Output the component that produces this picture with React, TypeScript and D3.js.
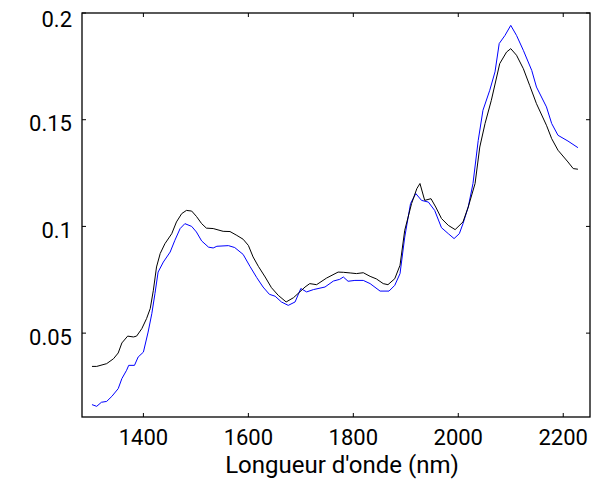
import * as d3 from 'd3';
import { useRef, useEffect } from 'react';

// black spectrum
const blackWavelengths = [1302, 1311, 1330, 1343, 1352, 1359, 1370, 1381, 1387, 1397, 1406, 1413, 1419, 1425, 1432, 1441, 1454, 1463, 1473, 1482, 1492, 1501, 1511, 1520, 1533, 1552, 1565, 1578, 1590, 1600, 1609, 1619, 1632, 1644, 1657, 1672, 1686, 1698, 1708, 1717, 1730, 1749, 1771, 1781, 1794, 1806, 1819, 1832, 1844, 1857, 1866, 1879, 1889, 1898, 1911, 1921, 1927, 1936, 1948, 1957, 1968, 1981, 1994, 2009, 2019, 2032, 2041, 2051, 2063, 2079, 2092, 2100, 2111, 2124, 2136, 2149, 2168, 2178, 2190, 2209, 2219, 2228];
const blackValues = [0.0344, 0.0344, 0.0357, 0.0380, 0.0407, 0.0454, 0.0486, 0.0482, 0.0486, 0.0521, 0.0568, 0.0615, 0.0701, 0.0810, 0.0873, 0.0919, 0.0966, 0.1021, 0.1060, 0.1075, 0.1072, 0.1047, 0.1013, 0.0992, 0.0990, 0.0977, 0.0976, 0.0958, 0.0940, 0.0911, 0.0857, 0.0813, 0.0763, 0.0713, 0.0677, 0.0646, 0.0666, 0.0693, 0.0716, 0.0732, 0.0727, 0.0758, 0.0786, 0.0785, 0.0782, 0.0779, 0.0783, 0.0766, 0.0754, 0.0732, 0.0727, 0.0755, 0.0818, 0.0982, 0.1107, 0.1177, 0.1201, 0.1122, 0.1130, 0.1091, 0.1037, 0.1005, 0.0985, 0.1021, 0.1091, 0.1201, 0.1372, 0.1482, 0.1591, 0.1763, 0.1817, 0.1833, 0.1802, 0.1739, 0.1661, 0.1575, 0.1474, 0.1411, 0.1357, 0.1302, 0.1271, 0.1268];

// blue spectrum
const blueWavelengths = [1302, 1311, 1320, 1330, 1340, 1352, 1359, 1368, 1372, 1383, 1390, 1400, 1409, 1416, 1422, 1428, 1438, 1451, 1460, 1470, 1479, 1492, 1501, 1511, 1524, 1533, 1540, 1562, 1574, 1590, 1603, 1616, 1628, 1640, 1651, 1663, 1676, 1689, 1700, 1711, 1724, 1746, 1762, 1774, 1781, 1790, 1803, 1819, 1832, 1851, 1868, 1879, 1889, 1898, 1909, 1919, 1930, 1943, 1955, 1968, 1981, 1992, 2002, 2009, 2019, 2028, 2038, 2047, 2060, 2070, 2078, 2089, 2100, 2111, 2124, 2140, 2149, 2168, 2178, 2190, 2209, 2228];
const blueValues = [0.0165, 0.0157, 0.0176, 0.0180, 0.0204, 0.0240, 0.0287, 0.0326, 0.0349, 0.0349, 0.0388, 0.0411, 0.0505, 0.0591, 0.0685, 0.0786, 0.0833, 0.0880, 0.0935, 0.0990, 0.1013, 0.1000, 0.0974, 0.0932, 0.0903, 0.0899, 0.0907, 0.0910, 0.0901, 0.0869, 0.0813, 0.0760, 0.0716, 0.0682, 0.0673, 0.0646, 0.0630, 0.0646, 0.0709, 0.0693, 0.0704, 0.0716, 0.0744, 0.0752, 0.0763, 0.0743, 0.0747, 0.0747, 0.0732, 0.0697, 0.0697, 0.0724, 0.0779, 0.0950, 0.1107, 0.1154, 0.1122, 0.1114, 0.1075, 0.0994, 0.0966, 0.0943, 0.0966, 0.1013, 0.1091, 0.1201, 0.1403, 0.1544, 0.1638, 0.1724, 0.1857, 0.1895, 0.1942, 0.1895, 0.1825, 0.1731, 0.1653, 0.1560, 0.1482, 0.1427, 0.1400, 0.1369];

const xTicks = [1400, 1600, 1800, 2000, 2200];
const yTicks = [0.05, 0.1, 0.15, 0.2];
const yTickLabels = ['0.05', '0.1', '0.15', '0.2'];

export default function App() {
    const svgRef = useRef<SVGSVGElement>(null);

    useEffect(() => {
        if (!svgRef.current) return;
        const svg = d3.select(svgRef.current);
        svg.selectAll('*').remove();

        const left = 82, right = 590, top = 13, bottom = 417;
        const font = 'Roboto, sans-serif';

        const x = d3.scaleLinear().domain([1283, 2251]).range([left, right]);
        const y = d3.scaleLinear().domain([0.0107, 0.2]).range([bottom, top]);

        const line = d3.line<[number, number]>()
            .x(d => x(d[0]))
            .y(d => y(d[1]));

        const series = [
            { w: blueWavelengths, v: blueValues, color: '#0000ff' },
            { w: blackWavelengths, v: blackValues, color: '#000000' },
        ];

        svg.append('g')
            .selectAll('path')
            .data(series)
            .enter()
            .append('path')
            .attr('d', s => line(s.w.map((w, i) => [w, s.v[i]] as [number, number])))
            .attr('fill', 'none')
            .attr('stroke', s => s.color)
            .attr('stroke-width', 1)
            .attr('stroke-linejoin', 'round');

        // box
        svg.append('rect')
            .attr('x', left).attr('y', top)
            .attr('width', right - left).attr('height', bottom - top)
            .attr('fill', 'none').attr('stroke', '#000').attr('stroke-width', 1.3);

        // ticks (inward, mirrored)
        const tl = 4;
        const ticks = svg.append('g').attr('stroke', '#000').attr('stroke-width', 1);
        xTicks.forEach(t => {
            ticks.append('line').attr('x1', x(t)).attr('x2', x(t)).attr('y1', bottom).attr('y2', bottom - tl);
            ticks.append('line').attr('x1', x(t)).attr('x2', x(t)).attr('y1', top).attr('y2', top + tl);
        });
        yTicks.forEach(t => {
            ticks.append('line').attr('x1', left).attr('x2', left + tl).attr('y1', y(t)).attr('y2', y(t));
            ticks.append('line').attr('x1', right).attr('x2', right - tl).attr('y1', y(t)).attr('y2', y(t));
        });

        svg.append('g')
            .selectAll('text')
            .data(xTicks)
            .enter()
            .append('text')
            .attr('x', d => x(d))
            .attr('y', 445)
            .attr('text-anchor', 'middle')
            .attr('font-family', font)
            .attr('font-size', 22)
            .text(d => String(d));

        svg.append('g')
            .selectAll('text')
            .data(yTicks)
            .enter()
            .append('text')
            .attr('x', 72)
            .attr('y', d => Math.max(y(d) + 4, 19))
            .attr('dominant-baseline', 'central')
            .attr('text-anchor', 'end')
            .attr('font-family', font)
            .attr('font-size', 22)
            .text((d, i) => yTickLabels[i]);

        svg.append('text')
            .attr('x', 342)
            .attr('y', 473)
            .attr('text-anchor', 'middle')
            .attr('font-family', font)
            .attr('font-size', 24)
            .text("Longueur d'onde (nm)");
    }, []);

    return (
        <svg ref={svgRef} width={606} height={481}
            style={{ position: 'fixed', left: 0, top: 0, background: '#fff' }} />
    );
}
